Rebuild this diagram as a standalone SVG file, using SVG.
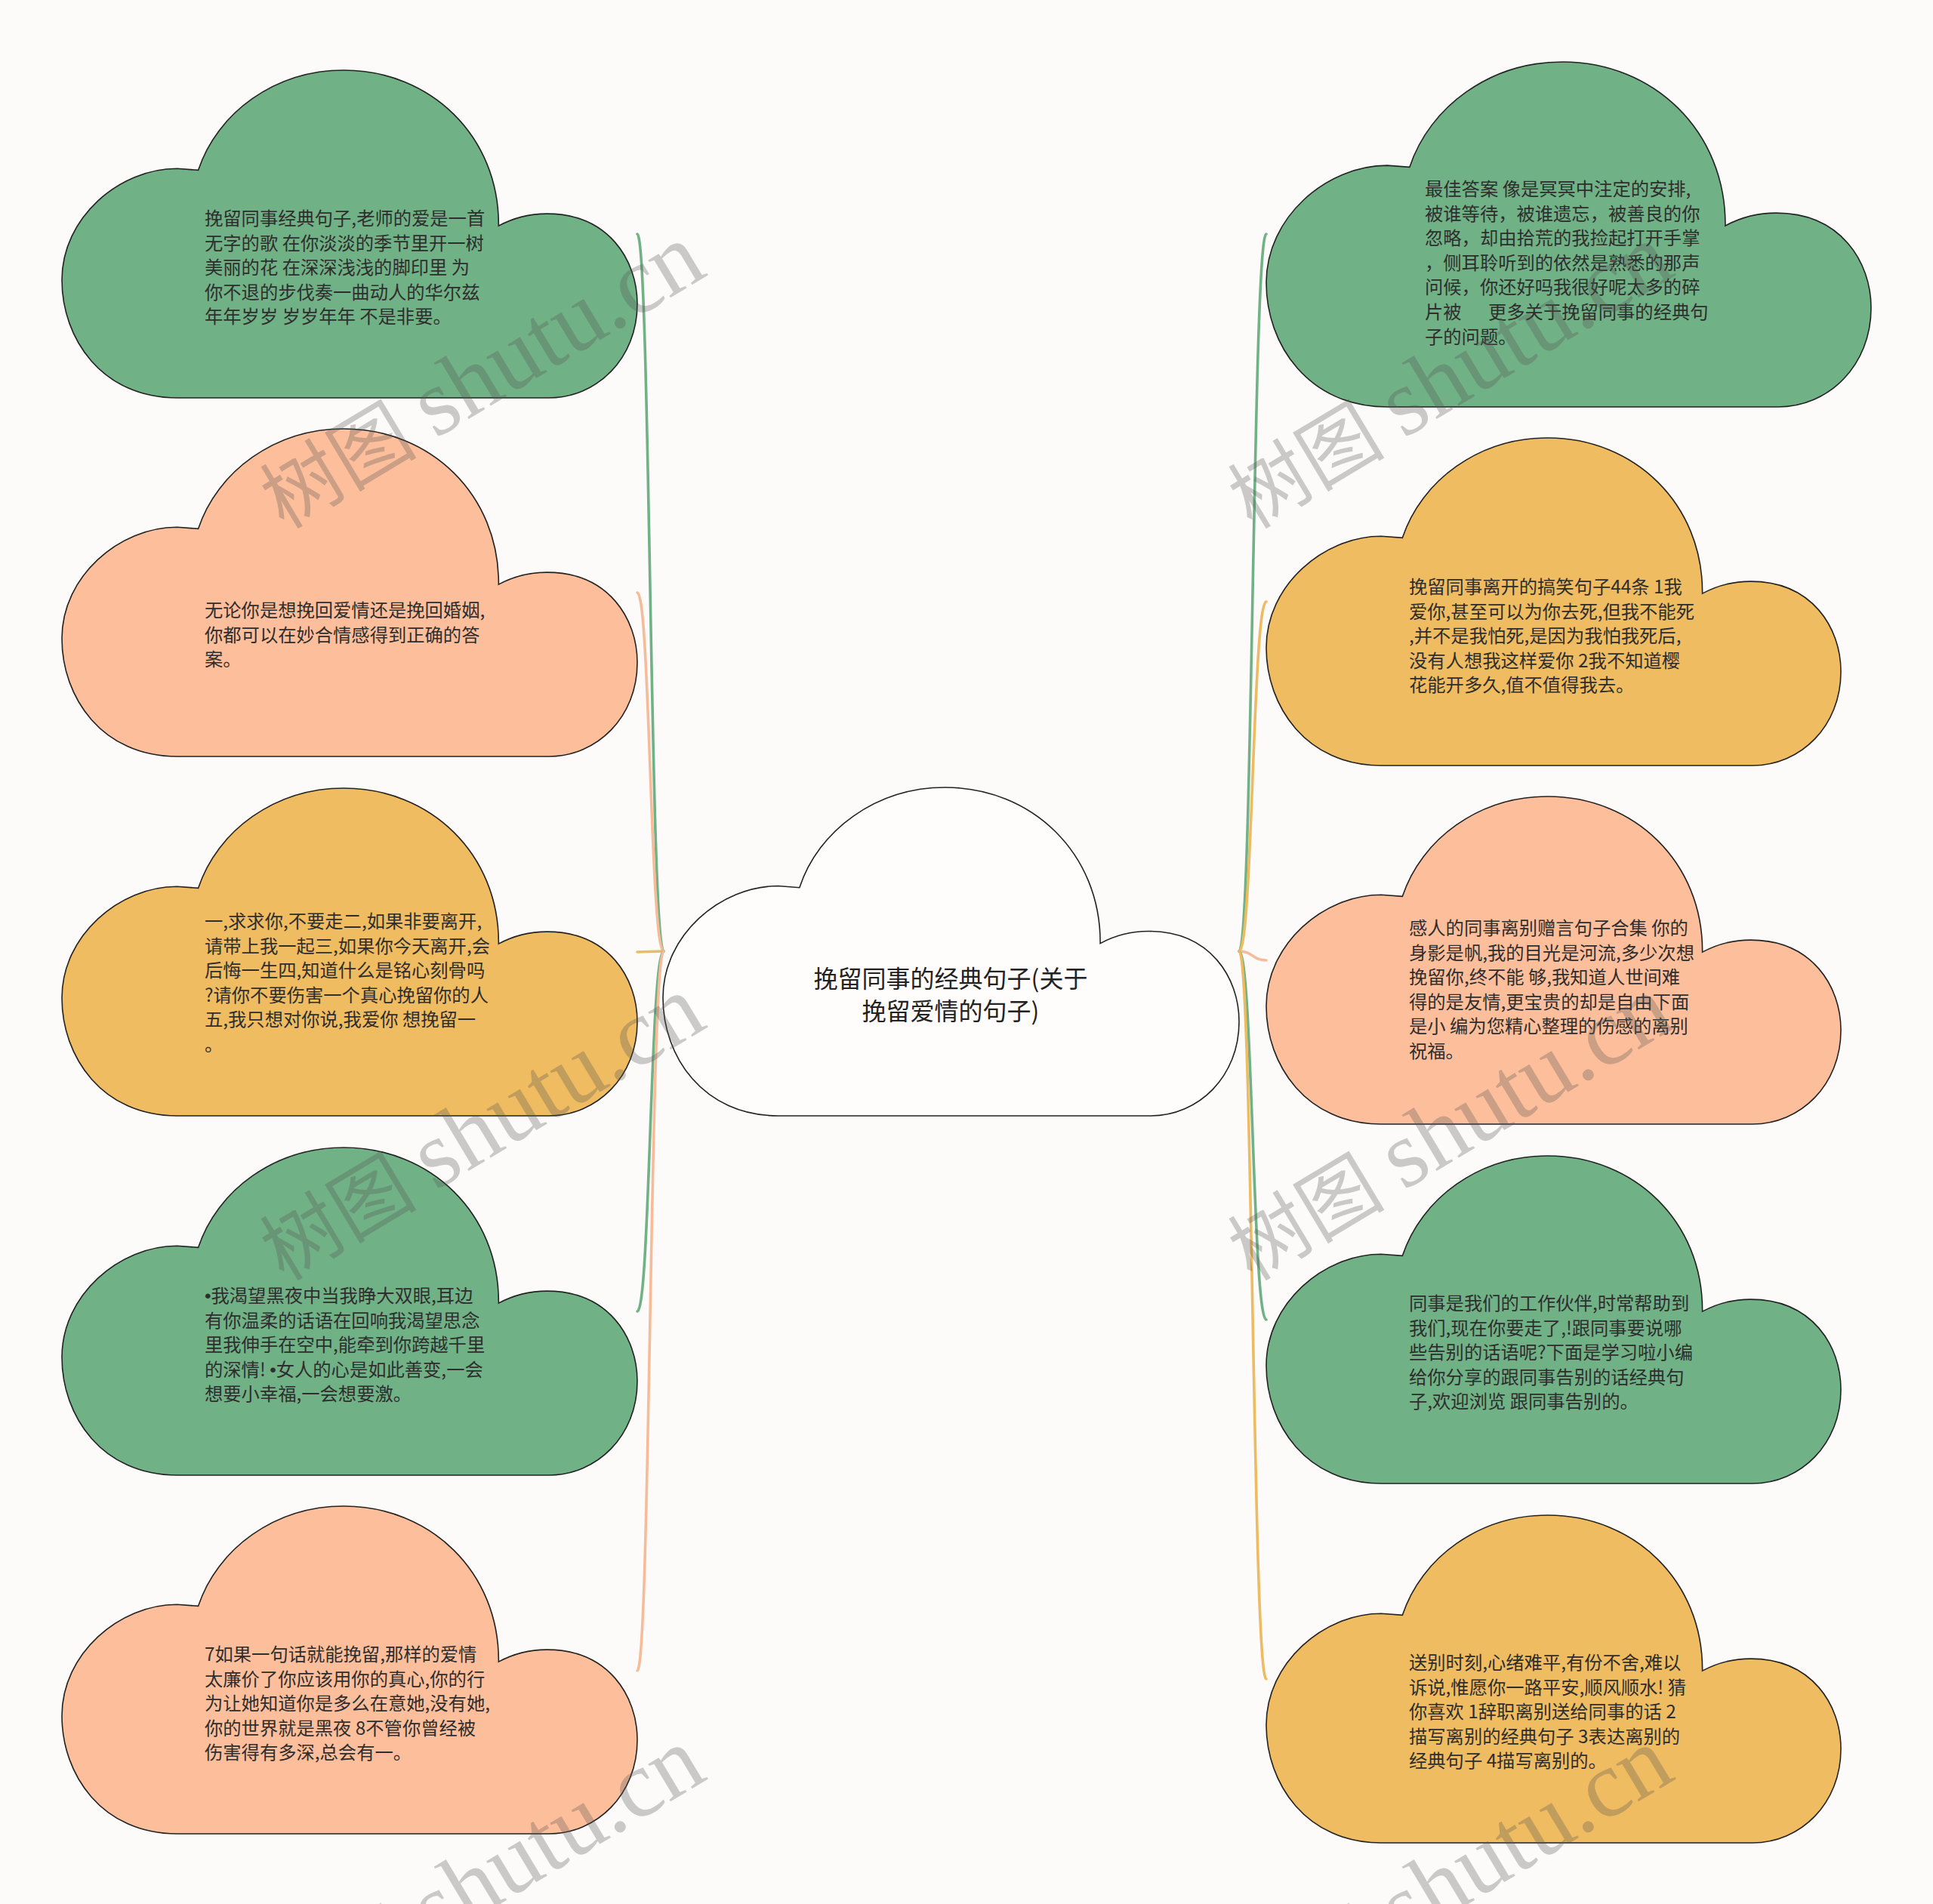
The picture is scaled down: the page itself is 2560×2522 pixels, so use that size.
<svg xmlns="http://www.w3.org/2000/svg" xmlns:xlink="http://www.w3.org/1999/xlink" width="2560" height="2522" viewBox="0 0 2560 2522">
<defs>
<style>
.bg{fill:#fdfbfa}
.cl{stroke:#222;stroke-width:1.6}
.g{fill:#71b186}
.s{fill:#fdbf9b}
.y{fill:#f0bc61}
.w{fill:#fefdfc}
.t{font-family:"Noto Sans CJK SC","Noto Sans",sans-serif;font-size:24.3px;fill:#2e2e2e}
.b{font-family:"Liberation Sans",sans-serif}
.ct{font-family:"Noto Sans CJK SC","Noto Sans",sans-serif;font-size:32px;fill:#222;text-anchor:middle}
.ln{fill:none;stroke-width:3.6;stroke-linecap:round}
.lg{stroke:#71b186}
.ls{stroke:#f6bc9a}
.ly{stroke:#ecbb62}
.wm{font-family:"Liberation Serif","Noto Sans CJK SC",serif;font-size:104px;fill:#555;fill-opacity:0.3}
.wl{font-size:126px}
</style>
<path id="cloud" vector-effect="non-scaling-stroke" d="M200,1000 C70,1000 0,820 0,640 C0,450 100,300 200,300 L237,305 C270,130 370,0 490,0 C640,0 760,200 759,475 C780,455 810,438 843,438 C950,438 1000,580 1000,713 C1000,880 930,1000 846,1000 Z"/>
</defs>
<rect class="bg" x="0" y="0" width="2560" height="2522"/>

<g id="connectors">
<path class="ln lg" d="M879,1260 C861,1260 861,310 844,310"/>
<path class="ln ls" d="M879,1260 C861,1260 861,785 844,785"/>
<path class="ln ly" d="M879,1260 C861,1260 861,1261 844,1261"/>
<path class="ln lg" d="M879,1260 C861,1260 861,1737 844,1737"/>
<path class="ln ls" d="M879,1260 C861,1260 861,2213 844,2213"/>
<path class="ln lg" d="M1641,1260 C1659,1260 1659,310 1677,310"/>
<path class="ln ly" d="M1641,1260 C1659,1260 1659,797 1677,797"/>
<path class="ln ls" d="M1641,1260 C1659,1260 1659,1272 1677,1272"/>
<path class="ln lg" d="M1641,1260 C1659,1260 1659,1748 1677,1748"/>
<path class="ln ly" d="M1641,1260 C1659,1260 1659,2224 1677,2224"/>
</g>

<g id="center">
<use xlink:href="#cloud" href="#cloud" class="cl w" transform="translate(878,1043) scale(0.763,0.435)"/>
<text class="ct" x="1259" y="1308">挽留同事的经典句子(关于</text>
<text class="ct" x="1259" y="1351">挽留爱情的句子)</text>
</g>

<g id="left1">
<use xlink:href="#cloud" href="#cloud" class="cl g" transform="translate(82,93) scale(0.762,0.434)"/>
<text class="t" x="271" y="298">
<tspan x="271">挽留同事经典句子,老师的爱是一首</tspan>
<tspan x="271" dy="32.6">无字的歌 在你淡淡的季节里开一树</tspan>
<tspan x="271" dy="32.6">美丽的花 在深深浅浅的脚印里 为</tspan>
<tspan x="271" dy="32.6">你不退的步伐奏一曲动人的华尔兹</tspan>
<tspan x="271" dy="32.6">年年岁岁 岁岁年年 不是非要。</tspan>
</text>
</g>

<g id="left2">
<use xlink:href="#cloud" href="#cloud" class="cl s" transform="translate(82,568) scale(0.762,0.434)"/>
<text class="t" x="271" y="817">
<tspan x="271">无论你是想挽回爱情还是挽回婚姻,</tspan>
<tspan x="271" dy="32.6">你都可以在妙合情感得到正确的答</tspan>
<tspan x="271" dy="32.6">案。</tspan>
</text>
</g>

<g id="left3">
<use xlink:href="#cloud" href="#cloud" class="cl y" transform="translate(82,1044) scale(0.762,0.434)"/>
<text class="t" x="271" y="1229">
<tspan x="271">一,求求你,不要走二,如果非要离开,</tspan>
<tspan x="271" dy="32.6">请带上我一起三,如果你今天离开,会</tspan>
<tspan x="271" dy="32.6">后悔一生四,知道什么是铭心刻骨吗</tspan>
<tspan x="271" dy="32.6">?请你不要伤害一个真心挽留你的人</tspan>
<tspan x="271" dy="32.6">五,我只想对你说,我爱你 想挽留一</tspan>
<tspan x="271" dy="32.6">。</tspan>
</text>
</g>

<g id="left4">
<use xlink:href="#cloud" href="#cloud" class="cl g" transform="translate(82,1520) scale(0.762,0.434)"/>
<text class="t" x="271" y="1725">
<tspan x="271"><tspan class="b">•</tspan>我渴望黑夜中当我睁大双眼,耳边</tspan>
<tspan x="271" dy="32.6">有你温柔的话语在回响我渴望思念</tspan>
<tspan x="271" dy="32.6">里我伸手在空中,能牵到你跨越千里</tspan>
<tspan x="271" dy="32.6">的深情! <tspan class="b">•</tspan>女人的心是如此善变,一会</tspan>
<tspan x="271" dy="32.6">想要小幸福,一会想要激。</tspan>
</text>
</g>

<g id="left5">
<use xlink:href="#cloud" href="#cloud" class="cl s" transform="translate(82,1995) scale(0.762,0.434)"/>
<text class="t" x="271" y="2200">
<tspan x="271">7如果一句话就能挽留,那样的爱情</tspan>
<tspan x="271" dy="32.6">太廉价了你应该用你的真心,你的行</tspan>
<tspan x="271" dy="32.6">为让她知道你是多么在意她,没有她,</tspan>
<tspan x="271" dy="32.6">你的世界就是黑夜 8不管你曾经被</tspan>
<tspan x="271" dy="32.6">伤害得有多深,总会有一。</tspan>
</text>
</g>

<g id="right1">
<use xlink:href="#cloud" href="#cloud" class="cl g" transform="translate(1677,82) scale(0.801,0.457)"/>
<text class="t" x="1887" y="259">
<tspan x="1887">最佳答案 像是冥冥中注定的安排,</tspan>
<tspan x="1887" dy="32.6">被谁等待，被谁遗忘，被善良的你</tspan>
<tspan x="1887" dy="32.6">忽略，却由拾荒的我捡起打开手掌</tspan>
<tspan x="1887" dy="32.6">，侧耳聆听到的依然是熟悉的那声</tspan>
<tspan x="1887" dy="32.6">问候，你还好吗我很好呢太多的碎</tspan>
<tspan x="1887" dy="32.6">片被</tspan><tspan x="1971">更多关于挽留同事的经典句</tspan>
<tspan x="1887" dy="32.6">子的问题。</tspan>
</text>
</g>

<g id="right2">
<use xlink:href="#cloud" href="#cloud" class="cl y" transform="translate(1677,580) scale(0.761,0.434)"/>
<text class="t" x="1866" y="786">
<tspan x="1866">挽留同事离开的搞笑句子44条 1我</tspan>
<tspan x="1866" dy="32.6">爱你,甚至可以为你去死,但我不能死</tspan>
<tspan x="1866" dy="32.6">,并不是我怕死,是因为我怕我死后,</tspan>
<tspan x="1866" dy="32.6">没有人想我这样爱你 2我不知道樱</tspan>
<tspan x="1866" dy="32.6">花能开多久,值不值得我去。</tspan>
</text>
</g>

<g id="right3">
<use xlink:href="#cloud" href="#cloud" class="cl s" transform="translate(1677,1055) scale(0.761,0.434)"/>
<text class="t" x="1866" y="1238">
<tspan x="1866">感人的同事离别赠言句子合集 你的</tspan>
<tspan x="1866" dy="32.6">身影是帆,我的目光是河流,多少次想</tspan>
<tspan x="1866" dy="32.6">挽留你,终不能 够,我知道人世间难</tspan>
<tspan x="1866" dy="32.6">得的是友情,更宝贵的却是自由下面</tspan>
<tspan x="1866" dy="32.6">是小 编为您精心整理的伤感的离别</tspan>
<tspan x="1866" dy="32.6">祝福。</tspan>
</text>
</g>

<g id="right4">
<use xlink:href="#cloud" href="#cloud" class="cl g" transform="translate(1677,1531) scale(0.761,0.434)"/>
<text class="t" x="1866" y="1735">
<tspan x="1866">同事是我们的工作伙伴,时常帮助到</tspan>
<tspan x="1866" dy="32.6">我们,现在你要走了,!跟同事要说哪</tspan>
<tspan x="1866" dy="32.6">些告别的话语呢?下面是学习啦小编</tspan>
<tspan x="1866" dy="32.6">给你分享的跟同事告别的话经典句</tspan>
<tspan x="1866" dy="32.6">子,欢迎浏览 跟同事告别的。</tspan>
</text>
</g>

<g id="right5">
<use xlink:href="#cloud" href="#cloud" class="cl y" transform="translate(1677,2007) scale(0.761,0.434)"/>
<text class="t" x="1866" y="2211">
<tspan x="1866">送别时刻,心绪难平,有份不舍,难以</tspan>
<tspan x="1866" dy="32.6">诉说,惟愿你一路平安,顺风顺水! 猜</tspan>
<tspan x="1866" dy="32.6">你喜欢 1辞职离别送给同事的话 2</tspan>
<tspan x="1866" dy="32.6">描写离别的经典句子 3表达离别的</tspan>
<tspan x="1866" dy="32.6">经典句子 4描写离别的。</tspan>
</text>
</g>

<g id="watermarks">
<text class="wm" x="376" y="702" transform="rotate(-31 376 702)">树图 <tspan class="wl">shutu.cn</tspan></text>
<text class="wm" x="1658" y="702" transform="rotate(-31 1658 702)">树图 <tspan class="wl">shutu.cn</tspan></text>
<text class="wm" x="376" y="1698" transform="rotate(-31 376 1698)">树图 <tspan class="wl">shutu.cn</tspan></text>
<text class="wm" x="1658" y="1698" transform="rotate(-31 1658 1698)">树图 <tspan class="wl">shutu.cn</tspan></text>
<text class="wm" x="376" y="2694" transform="rotate(-31 376 2694)">树图 <tspan class="wl">shutu.cn</tspan></text>
<text class="wm" x="1658" y="2694" transform="rotate(-31 1658 2694)">树图 <tspan class="wl">shutu.cn</tspan></text>
</g>
</svg>
